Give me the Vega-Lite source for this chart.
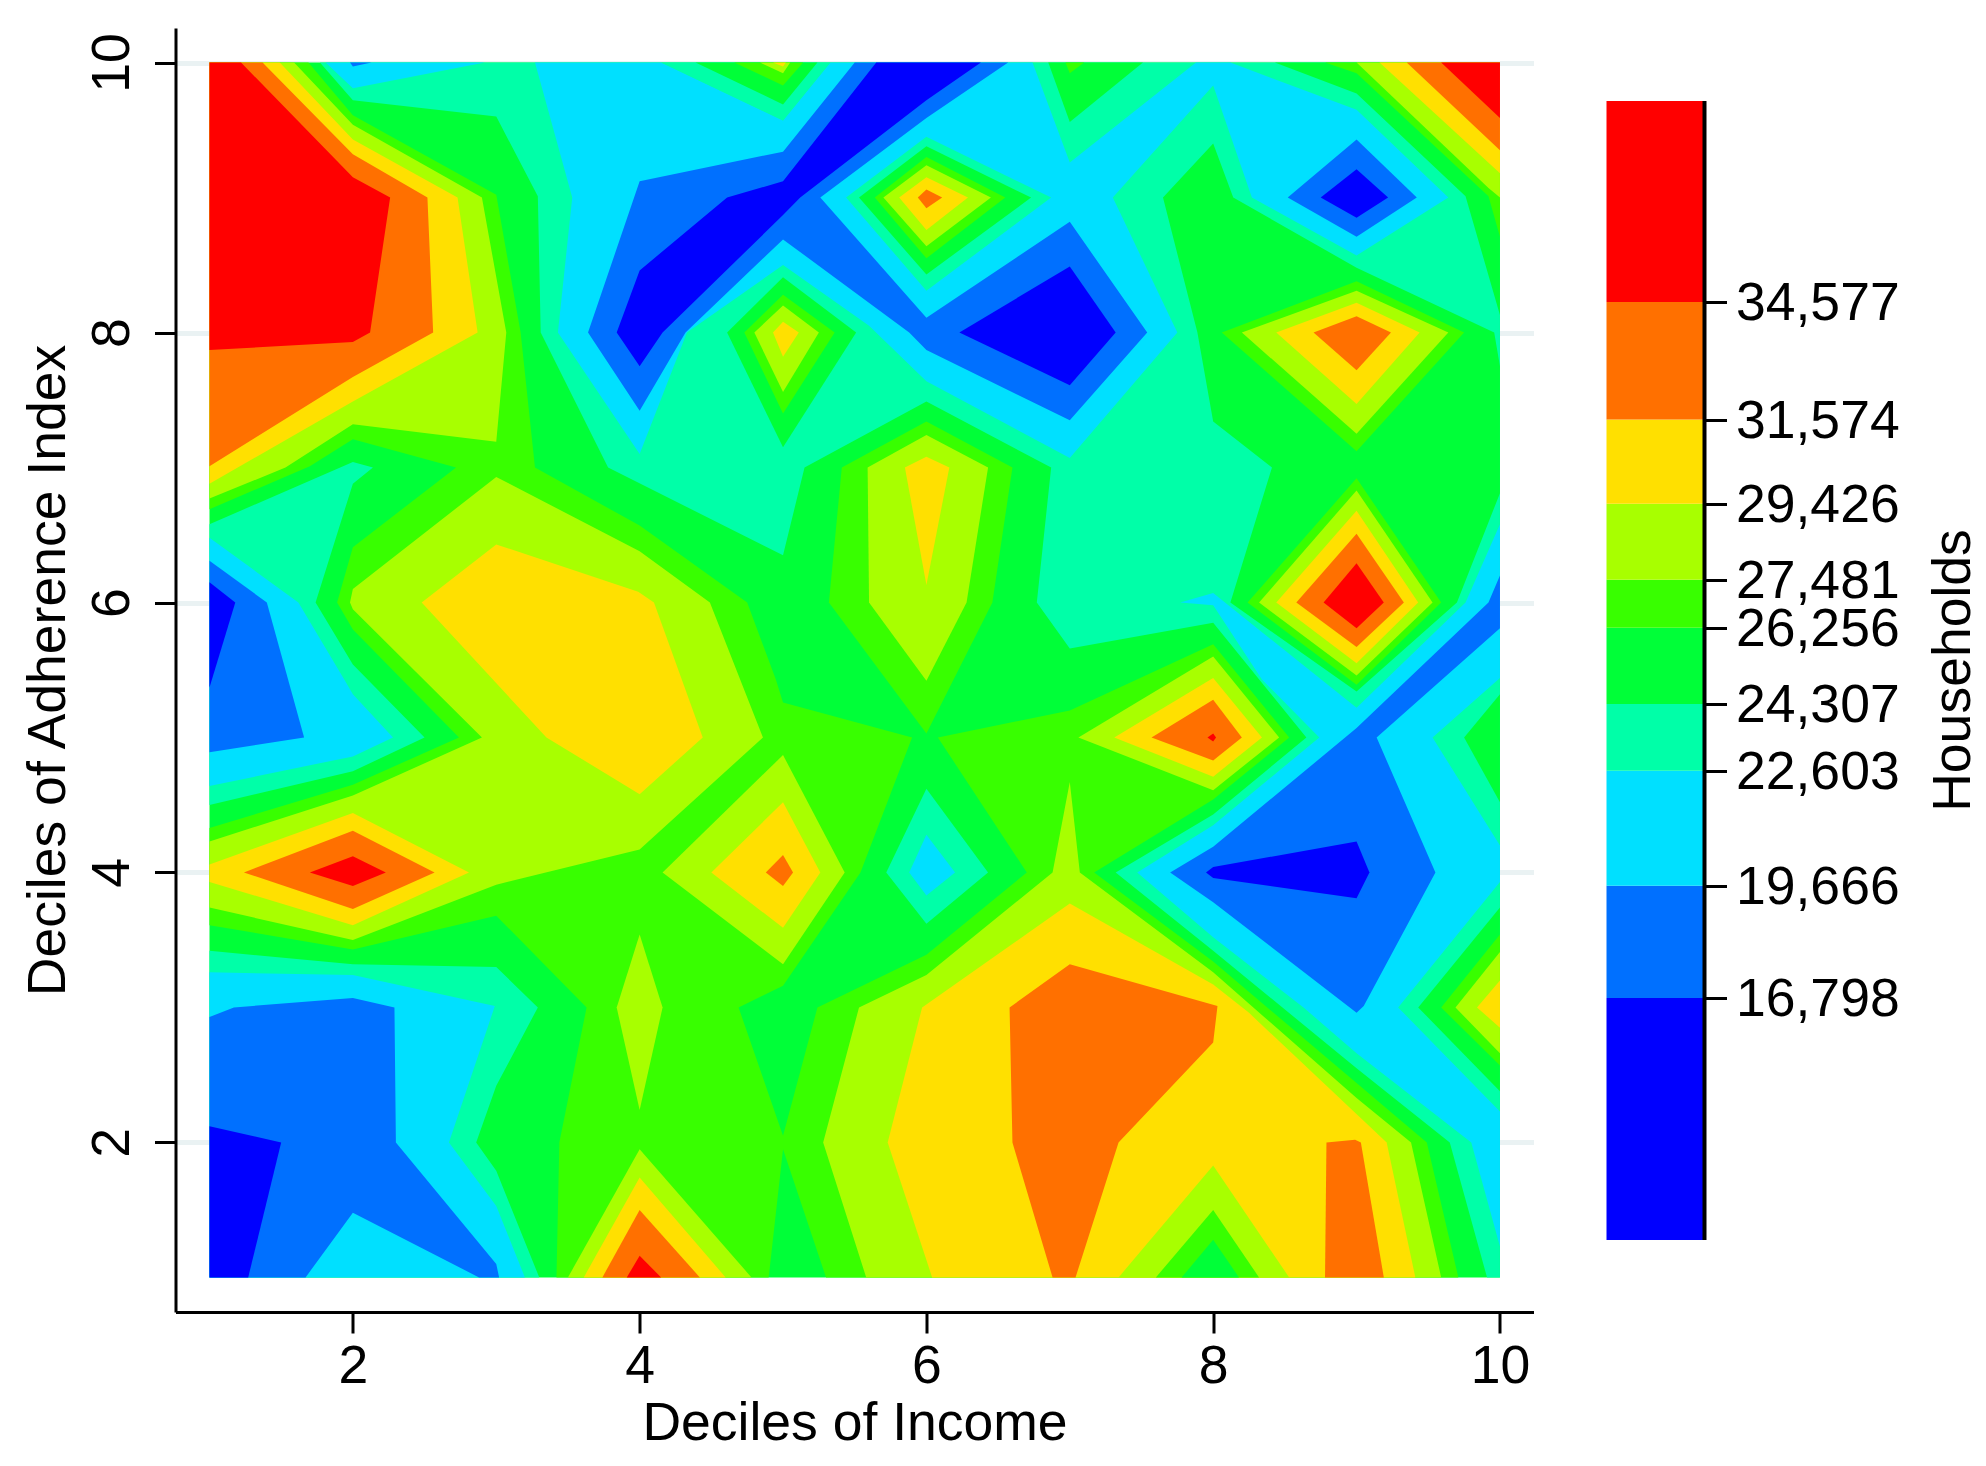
{"$schema":"https://vega.github.io/schema/vega-lite/v6.json","padding":{"left":21.5,"top":28,"right":0,"bottom":0},"background":"white","spacing":73,"config":{"view":{"stroke":null},"font":"Liberation Sans"},
"datasets":{"bands":[{"lo":10617,"hi":16798,"c":"c0"},{"lo":16798,"hi":19666,"c":"c1"},{"lo":19666,"hi":22603,"c":"c2"},{"lo":22603,"hi":24307,"c":"c3"},{"lo":24307,"hi":26256,"c":"c4"},{"lo":26256,"hi":27481,"c":"c5"},{"lo":27481,"hi":29426,"c":"c6"},{"lo":29426,"hi":31574,"c":"c7"},{"lo":31574,"hi":34577,"c":"c8"},{"lo":34577,"hi":39711,"c":"c9"}],
"poly":[
{"p":1,"c":"c4","x":1,"y":1},{"p":1,"c":"c4","x":10,"y":1},{"p":1,"c":"c4","x":10,"y":10},{"p":1,"c":"c4","x":1,"y":10},
{"p":2,"c":"c5","x":1,"y":10},{"p":2,"c":"c5","x":1.69,"y":10},{"p":2,"c":"c5","x":2,"y":9.61},{"p":2,"c":"c5","x":3,"y":9.02},{"p":2,"c":"c5","x":3.17,"y":8},{"p":2,"c":"c5","x":3.27,"y":7},{"p":2,"c":"c5","x":4,"y":6.57},{"p":2,"c":"c5","x":4.75,"y":6},{"p":2,"c":"c5","x":4.95,"y":5.43},{"p":2,"c":"c5","x":5,"y":5.26},{"p":2,"c":"c5","x":5.9,"y":5},{"p":2,"c":"c5","x":5.54,"y":4},{"p":2,"c":"c5","x":5,"y":3.16},{"p":2,"c":"c5","x":4.69,"y":3},{"p":2,"c":"c5","x":5,"y":2.05},{"p":2,"c":"c5","x":5,"y":1.95},{"p":2,"c":"c5","x":4.9,"y":1},{"p":2,"c":"c5","x":3.42,"y":1},{"p":2,"c":"c5","x":3.44,"y":2},{"p":2,"c":"c5","x":3.63,"y":3},{"p":2,"c":"c5","x":3,"y":3.68},{"p":2,"c":"c5","x":2,"y":3.43},{"p":2,"c":"c5","x":1,"y":3.61},{"p":2,"c":"c5","x":1,"y":4.33},{"p":2,"c":"c5","x":2,"y":4.65},{"p":2,"c":"c5","x":2.74,"y":5},{"p":2,"c":"c5","x":2,"y":5.8},{"p":2,"c":"c5","x":1.89,"y":6},{"p":2,"c":"c5","x":2,"y":6.41},{"p":2,"c":"c5","x":2.72,"y":7},{"p":2,"c":"c5","x":2,"y":7.21},{"p":2,"c":"c5","x":1.7,"y":7.01},{"p":2,"c":"c5","x":1,"y":6.69},
{"p":3,"c":"c5","x":5,"y":2.05},{"p":3,"c":"c5","x":5.24,"y":3},{"p":3,"c":"c5","x":6,"y":3.39},{"p":3,"c":"c5","x":6.7,"y":4},{"p":3,"c":"c5","x":6.08,"y":5},{"p":3,"c":"c5","x":7,"y":5.2},{"p":3,"c":"c5","x":8,"y":5.69},{"p":3,"c":"c5","x":8.53,"y":5},{"p":3,"c":"c5","x":8,"y":4.54},{"p":3,"c":"c5","x":7.17,"y":4},{"p":3,"c":"c5","x":8,"y":3.34},{"p":3,"c":"c5","x":9,"y":2.44},{"p":3,"c":"c5","x":9.49,"y":2},{"p":3,"c":"c5","x":9.71,"y":1},{"p":3,"c":"c5","x":5.3,"y":1},{"p":3,"c":"c5","x":5,"y":1.95},
{"p":4,"c":"c5","x":6,"y":7.34},{"p":4,"c":"c5","x":5.41,"y":7},{"p":4,"c":"c5","x":5.32,"y":6},{"p":4,"c":"c5","x":6,"y":5.03},{"p":4,"c":"c5","x":6.46,"y":6},{"p":4,"c":"c5","x":6.6,"y":7},
{"p":5,"c":"c3","x":1,"y":3.42},{"p":5,"c":"c3","x":2,"y":3.32},{"p":5,"c":"c3","x":3,"y":3.3},{"p":5,"c":"c3","x":3.29,"y":3},{"p":5,"c":"c3","x":3,"y":2.42},{"p":5,"c":"c3","x":2.86,"y":2},{"p":5,"c":"c3","x":3,"y":1.79},{"p":5,"c":"c3","x":3.3,"y":1},{"p":5,"c":"c3","x":1,"y":1},
{"p":6,"c":"c2","x":1,"y":3.26},{"p":6,"c":"c2","x":2,"y":3.24},{"p":6,"c":"c2","x":2.99,"y":3.01},{"p":6,"c":"c2","x":2.67,"y":2},{"p":6,"c":"c2","x":3,"y":1.53},{"p":6,"c":"c2","x":3.2,"y":1},{"p":6,"c":"c2","x":1,"y":1},
{"p":7,"c":"c1","x":1,"y":2.93},{"p":7,"c":"c1","x":1.17,"y":3},{"p":7,"c":"c1","x":2,"y":3.07},{"p":7,"c":"c1","x":2.29,"y":3},{"p":7,"c":"c1","x":2.3,"y":2},{"p":7,"c":"c1","x":3,"y":1.1},{"p":7,"c":"c1","x":3.02,"y":1},{"p":7,"c":"c1","x":2.88,"y":1},{"p":7,"c":"c1","x":2,"y":1.48},{"p":7,"c":"c1","x":1.67,"y":1},{"p":7,"c":"c1","x":1,"y":1},
{"p":8,"c":"c0","x":1,"y":2.12},{"p":8,"c":"c0","x":1.5,"y":2},{"p":8,"c":"c0","x":1.27,"y":1},{"p":8,"c":"c0","x":1,"y":1},
{"p":9,"c":"c3","x":1,"y":6.58},{"p":9,"c":"c3","x":2,"y":7.04},{"p":9,"c":"c3","x":2.14,"y":7},{"p":9,"c":"c3","x":2,"y":6.88},{"p":9,"c":"c3","x":1.74,"y":6},{"p":9,"c":"c3","x":2,"y":5.54},{"p":9,"c":"c3","x":2.5,"y":5},{"p":9,"c":"c3","x":2,"y":4.75},{"p":9,"c":"c3","x":1,"y":4.5},
{"p":10,"c":"c2","x":1,"y":6.48},{"p":10,"c":"c2","x":1.62,"y":6},{"p":10,"c":"c2","x":1.94,"y":5.43},{"p":10,"c":"c2","x":2,"y":5.32},{"p":10,"c":"c2","x":2.28,"y":5},{"p":10,"c":"c2","x":2,"y":4.86},{"p":10,"c":"c2","x":1,"y":4.64},
{"p":11,"c":"c1","x":1,"y":6.31},{"p":11,"c":"c1","x":1.4,"y":6},{"p":11,"c":"c1","x":1.66,"y":5},{"p":11,"c":"c1","x":1,"y":4.89},
{"p":12,"c":"c0","x":1,"y":6.15},{"p":12,"c":"c0","x":1.18,"y":6},{"p":12,"c":"c0","x":1,"y":5.37},
{"p":13,"c":"c6","x":1,"y":10},{"p":13,"c":"c6","x":1.59,"y":10},{"p":13,"c":"c6","x":2,"y":9.54},{"p":13,"c":"c6","x":2.9,"y":9},{"p":13,"c":"c6","x":3.07,"y":8},{"p":13,"c":"c6","x":3,"y":7.19},{"p":13,"c":"c6","x":2,"y":7.32},{"p":13,"c":"c6","x":1.53,"y":7},{"p":13,"c":"c6","x":1,"y":6.77},
{"p":14,"c":"c7","x":1,"y":10},{"p":14,"c":"c7","x":1.49,"y":10},{"p":14,"c":"c7","x":2,"y":9.43},{"p":14,"c":"c7","x":2.73,"y":9},{"p":14,"c":"c7","x":2.87,"y":8},{"p":14,"c":"c7","x":2,"y":7.49},{"p":14,"c":"c7","x":1,"y":6.88},
{"p":15,"c":"c8","x":1,"y":10},{"p":15,"c":"c8","x":1.37,"y":10},{"p":15,"c":"c8","x":2,"y":9.32},{"p":15,"c":"c8","x":2.52,"y":9},{"p":15,"c":"c8","x":2.56,"y":8},{"p":15,"c":"c8","x":2,"y":7.67},{"p":15,"c":"c8","x":1,"y":7.01},
{"p":16,"c":"c9","x":1,"y":10},{"p":16,"c":"c9","x":1.22,"y":10},{"p":16,"c":"c9","x":2,"y":9.15},{"p":16,"c":"c9","x":2.26,"y":9},{"p":16,"c":"c9","x":2.12,"y":8},{"p":16,"c":"c9","x":2,"y":7.93},{"p":16,"c":"c9","x":1,"y":7.87},
{"p":17,"c":"c6","x":3,"y":6.93},{"p":17,"c":"c6","x":4,"y":6.38},{"p":17,"c":"c6","x":4.49,"y":6},{"p":17,"c":"c6","x":4.86,"y":5},{"p":17,"c":"c6","x":4,"y":4.17},{"p":17,"c":"c6","x":3,"y":3.91},{"p":17,"c":"c6","x":2,"y":3.5},{"p":17,"c":"c6","x":1,"y":3.74},{"p":17,"c":"c6","x":1,"y":4.23},{"p":17,"c":"c6","x":2,"y":4.57},{"p":17,"c":"c6","x":2.9,"y":5},{"p":17,"c":"c6","x":2,"y":5.95},{"p":17,"c":"c6","x":1.98,"y":6},{"p":17,"c":"c6","x":2,"y":6.1},
{"p":18,"c":"c7","x":2.48,"y":6},{"p":18,"c":"c7","x":3,"y":6.43},{"p":18,"c":"c7","x":3.99,"y":6.08},{"p":18,"c":"c7","x":4.1,"y":6},{"p":18,"c":"c7","x":4.44,"y":5},{"p":18,"c":"c7","x":4,"y":4.58},{"p":18,"c":"c7","x":3.35,"y":5},
{"p":19,"c":"c7","x":1,"y":4.06},{"p":19,"c":"c7","x":2,"y":4.44},{"p":19,"c":"c7","x":2.81,"y":4},{"p":19,"c":"c7","x":2,"y":3.61},{"p":19,"c":"c7","x":1,"y":3.93},
{"p":20,"c":"c8","x":1.24,"y":4},{"p":20,"c":"c8","x":2,"y":4.31},{"p":20,"c":"c8","x":2.57,"y":4},{"p":20,"c":"c8","x":2,"y":3.73},
{"p":21,"c":"c9","x":1.7,"y":4},{"p":21,"c":"c9","x":2,"y":4.12},{"p":21,"c":"c9","x":2.23,"y":4},{"p":21,"c":"c9","x":2,"y":3.9},
{"p":22,"c":"c6","x":3.5,"y":1},{"p":22,"c":"c6","x":4,"y":1.95},{"p":22,"c":"c6","x":4.78,"y":1},
{"p":23,"c":"c7","x":3.61,"y":1},{"p":23,"c":"c7","x":4,"y":1.74},{"p":23,"c":"c7","x":4.6,"y":1},
{"p":24,"c":"c8","x":3.74,"y":1},{"p":24,"c":"c8","x":4,"y":1.5},{"p":24,"c":"c8","x":4.42,"y":1},
{"p":25,"c":"c9","x":3.91,"y":1},{"p":25,"c":"c9","x":4,"y":1.16},{"p":25,"c":"c9","x":4.15,"y":1},
{"p":26,"c":"c6","x":3.84,"y":3},{"p":26,"c":"c6","x":4,"y":3.54},{"p":26,"c":"c6","x":4.16,"y":3},{"p":26,"c":"c6","x":4,"y":2.24},
{"p":27,"c":"c6","x":4.16,"y":4},{"p":27,"c":"c6","x":5,"y":4.87},{"p":27,"c":"c6","x":5.43,"y":4},{"p":27,"c":"c6","x":5,"y":3.32},
{"p":28,"c":"c7","x":4.5,"y":4},{"p":28,"c":"c7","x":5,"y":4.52},{"p":28,"c":"c7","x":5.26,"y":4},{"p":28,"c":"c7","x":5,"y":3.59},
{"p":29,"c":"c8","x":4.88,"y":4},{"p":29,"c":"c8","x":5,"y":4.13},{"p":29,"c":"c8","x":5.07,"y":4},{"p":29,"c":"c8","x":5,"y":3.9},
{"p":30,"c":"c3","x":1.77,"y":10},{"p":30,"c":"c3","x":2,"y":9.72},{"p":30,"c":"c3","x":3,"y":9.6},{"p":30,"c":"c3","x":3.29,"y":9.01},{"p":30,"c":"c3","x":3.31,"y":8},{"p":30,"c":"c3","x":3.78,"y":7},{"p":30,"c":"c3","x":5,"y":6.35},{"p":30,"c":"c3","x":5.15,"y":7},{"p":30,"c":"c3","x":6,"y":7.49},{"p":30,"c":"c3","x":6.87,"y":7},{"p":30,"c":"c3","x":6.77,"y":6},{"p":30,"c":"c3","x":7,"y":5.66},{"p":30,"c":"c3","x":8,"y":5.85},{"p":30,"c":"c3","x":8.65,"y":5},{"p":30,"c":"c3","x":8,"y":4.43},{"p":30,"c":"c3","x":7.32,"y":4},{"p":30,"c":"c3","x":8,"y":3.42},{"p":30,"c":"c3","x":9,"y":2.55},{"p":30,"c":"c3","x":9.65,"y":2},{"p":30,"c":"c3","x":9.91,"y":1},{"p":30,"c":"c3","x":10,"y":1},{"p":30,"c":"c3","x":10,"y":10},
{"p":31,"c":"c2","x":3.27,"y":10},{"p":31,"c":"c2","x":3.53,"y":9},{"p":31,"c":"c2","x":3.43,"y":8},{"p":31,"c":"c2","x":4,"y":7.1},{"p":31,"c":"c2","x":4.33,"y":8},{"p":31,"c":"c2","x":5,"y":8.5},{"p":31,"c":"c2","x":5.6,"y":8.05},{"p":31,"c":"c2","x":6,"y":7.64},{"p":31,"c":"c2","x":7,"y":7.07},{"p":31,"c":"c2","x":7.75,"y":8},{"p":31,"c":"c2","x":7.3,"y":9},{"p":31,"c":"c2","x":8,"y":9.83},{"p":31,"c":"c2","x":8.27,"y":9},{"p":31,"c":"c2","x":9,"y":8.57},{"p":31,"c":"c2","x":9.64,"y":9},{"p":31,"c":"c2","x":9,"y":9.65},{"p":31,"c":"c2","x":8.12,"y":10},{"p":31,"c":"c2","x":7.88,"y":10},{"p":31,"c":"c2","x":7,"y":9.26},{"p":31,"c":"c2","x":6.74,"y":10},{"p":31,"c":"c2","x":5.33,"y":10},{"p":31,"c":"c2","x":5,"y":9.57},{"p":31,"c":"c2","x":4.15,"y":10},
{"p":32,"c":"c2","x":1.81,"y":10},{"p":32,"c":"c2","x":2,"y":9.81},{"p":32,"c":"c2","x":2.92,"y":10},
{"p":33,"c":"c1","x":1.98,"y":10},{"p":33,"c":"c1","x":2,"y":9.97},{"p":33,"c":"c1","x":2.13,"y":10},
{"p":34,"c":"c1","x":4,"y":9.12},{"p":34,"c":"c1","x":5,"y":9.34},{"p":34,"c":"c1","x":5.5,"y":10},{"p":34,"c":"c1","x":6.57,"y":10},{"p":34,"c":"c1","x":6,"y":9.59},{"p":34,"c":"c1","x":5.26,"y":9},{"p":34,"c":"c1","x":6,"y":8.11},{"p":34,"c":"c1","x":7,"y":8.82},{"p":34,"c":"c1","x":7.54,"y":8},{"p":34,"c":"c1","x":7,"y":7.35},{"p":34,"c":"c1","x":6,"y":7.87},{"p":34,"c":"c1","x":5.88,"y":8},{"p":34,"c":"c1","x":5,"y":8.69},{"p":34,"c":"c1","x":4.32,"y":8},{"p":34,"c":"c1","x":4,"y":7.42},{"p":34,"c":"c1","x":3.64,"y":8},
{"p":35,"c":"c0","x":4,"y":8.46},{"p":35,"c":"c0","x":4.61,"y":9},{"p":35,"c":"c0","x":5,"y":9.12},{"p":35,"c":"c0","x":5.65,"y":10},{"p":35,"c":"c0","x":6.38,"y":10},{"p":35,"c":"c0","x":6,"y":9.72},{"p":35,"c":"c0","x":5.12,"y":9},{"p":35,"c":"c0","x":5,"y":8.87},{"p":35,"c":"c0","x":4.16,"y":8},{"p":35,"c":"c0","x":4,"y":7.75},{"p":35,"c":"c0","x":3.84,"y":8},
{"p":36,"c":"c0","x":6.23,"y":8},{"p":36,"c":"c0","x":7,"y":8.49},{"p":36,"c":"c0","x":7.32,"y":8},{"p":36,"c":"c0","x":7,"y":7.61},
{"p":37,"c":"c1","x":8.52,"y":9},{"p":37,"c":"c1","x":9,"y":9.43},{"p":37,"c":"c1","x":9.42,"y":9},{"p":37,"c":"c1","x":9,"y":8.71},
{"p":38,"c":"c0","x":8.75,"y":9},{"p":38,"c":"c0","x":9,"y":9.21},{"p":38,"c":"c0","x":9.22,"y":9},{"p":38,"c":"c0","x":9,"y":8.85},
{"p":39,"c":"c2","x":8,"y":6.07},{"p":39,"c":"c2","x":7.77,"y":6},{"p":39,"c":"c2","x":8,"y":5.98},{"p":39,"c":"c2","x":8.34,"y":5.43},{"p":39,"c":"c2","x":8.74,"y":5},{"p":39,"c":"c2","x":8,"y":4.35},{"p":39,"c":"c2","x":7.47,"y":4},{"p":39,"c":"c2","x":8,"y":3.52},{"p":39,"c":"c2","x":8.63,"y":3},{"p":39,"c":"c2","x":9,"y":2.66},{"p":39,"c":"c2","x":9.8,"y":2},{"p":39,"c":"c2","x":10,"y":1.23},{"p":39,"c":"c2","x":10,"y":2.23},{"p":39,"c":"c2","x":9.29,"y":3},{"p":39,"c":"c2","x":10,"y":3.93},{"p":39,"c":"c2","x":10,"y":4.2},{"p":39,"c":"c2","x":9.53,"y":5},{"p":39,"c":"c2","x":10,"y":5.44},{"p":39,"c":"c2","x":10,"y":6.58},{"p":39,"c":"c2","x":9.76,"y":6},{"p":39,"c":"c2","x":9,"y":5.22},
{"p":40,"c":"c1","x":10,"y":6.2},{"p":40,"c":"c1","x":9.92,"y":6},{"p":40,"c":"c1","x":9,"y":5.07},{"p":40,"c":"c1","x":8,"y":4.19},{"p":40,"c":"c1","x":7.7,"y":4},{"p":40,"c":"c1","x":8,"y":3.78},{"p":40,"c":"c1","x":9,"y":2.96},{"p":40,"c":"c1","x":9.05,"y":3.01},{"p":40,"c":"c1","x":9.55,"y":4},{"p":40,"c":"c1","x":9.14,"y":5},{"p":40,"c":"c1","x":10,"y":5.81},
{"p":41,"c":"c0","x":7.95,"y":4},{"p":41,"c":"c0","x":8,"y":4.04},{"p":41,"c":"c0","x":9,"y":4.23},{"p":41,"c":"c0","x":9.09,"y":4},{"p":41,"c":"c0","x":9,"y":3.81},{"p":41,"c":"c0","x":8,"y":3.96},
{"p":42,"c":"c4","x":7.65,"y":9},{"p":42,"c":"c4","x":8,"y":9.4},{"p":42,"c":"c4","x":8.14,"y":9},{"p":42,"c":"c4","x":9,"y":8.48},{"p":42,"c":"c4","x":9.96,"y":8},{"p":42,"c":"c4","x":10,"y":7.75},{"p":42,"c":"c4","x":10,"y":6.81},{"p":42,"c":"c4","x":9.7,"y":6},{"p":42,"c":"c4","x":9,"y":5.34},{"p":42,"c":"c4","x":8.12,"y":6},{"p":42,"c":"c4","x":8.41,"y":7},{"p":42,"c":"c4","x":8,"y":7.34},{"p":42,"c":"c4","x":7.89,"y":8},
{"p":43,"c":"c4","x":6.85,"y":10},{"p":43,"c":"c4","x":7,"y":9.56},{"p":43,"c":"c4","x":7.51,"y":10},
{"p":44,"c":"c5","x":6.97,"y":10},{"p":44,"c":"c5","x":7,"y":9.92},{"p":44,"c":"c5","x":7.1,"y":10},
{"p":45,"c":"c4","x":8.43,"y":10},{"p":45,"c":"c4","x":9,"y":9.77},{"p":45,"c":"c4","x":9.76,"y":9.01},{"p":45,"c":"c4","x":10,"y":8.13},{"p":45,"c":"c4","x":10,"y":10},
{"p":46,"c":"c5","x":8.78,"y":10},{"p":46,"c":"c5","x":9,"y":9.92},{"p":46,"c":"c5","x":9.92,"y":9.01},{"p":46,"c":"c5","x":10,"y":8.71},{"p":46,"c":"c5","x":10,"y":10},
{"p":47,"c":"c6","x":9,"y":10},{"p":47,"c":"c6","x":9.92,"y":9.07},{"p":47,"c":"c6","x":10,"y":9},{"p":47,"c":"c6","x":10,"y":10},
{"p":48,"c":"c7","x":9.16,"y":10},{"p":48,"c":"c7","x":10,"y":9.18},{"p":48,"c":"c7","x":10,"y":10},
{"p":49,"c":"c8","x":9.35,"y":10},{"p":49,"c":"c8","x":10,"y":9.35},{"p":49,"c":"c8","x":10,"y":10},
{"p":50,"c":"c9","x":9.59,"y":10},{"p":50,"c":"c9","x":10,"y":9.59},{"p":50,"c":"c9","x":10,"y":10},
{"p":51,"c":"c4","x":10,"y":5.32},{"p":51,"c":"c4","x":9.75,"y":5},{"p":51,"c":"c4","x":10,"y":4.52},
{"p":52,"c":"c4","x":10,"y":3.74},{"p":52,"c":"c4","x":9.43,"y":3},{"p":52,"c":"c4","x":10,"y":2.38},
{"p":53,"c":"c5","x":10,"y":3.54},{"p":53,"c":"c5","x":9.59,"y":3},{"p":53,"c":"c5","x":10,"y":2.57},
{"p":54,"c":"c6","x":10,"y":3.41},{"p":54,"c":"c6","x":9.69,"y":3},{"p":54,"c":"c6","x":10,"y":2.66},
{"p":55,"c":"c7","x":10,"y":3.2},{"p":55,"c":"c7","x":9.84,"y":3},{"p":55,"c":"c7","x":10,"y":2.85},
{"p":56,"c":"c5","x":8.06,"y":8},{"p":56,"c":"c5","x":9,"y":8.38},{"p":56,"c":"c5","x":9.75,"y":8},{"p":56,"c":"c5","x":9,"y":7.12},
{"p":57,"c":"c6","x":8.2,"y":8},{"p":57,"c":"c6","x":9,"y":8.31},{"p":57,"c":"c6","x":9.64,"y":8},{"p":57,"c":"c6","x":9,"y":7.25},
{"p":58,"c":"c7","x":8.44,"y":8},{"p":58,"c":"c7","x":9,"y":8.22},{"p":58,"c":"c7","x":9.44,"y":8},{"p":58,"c":"c7","x":9,"y":7.47},
{"p":59,"c":"c8","x":8.7,"y":8},{"p":59,"c":"c8","x":9,"y":8.12},{"p":59,"c":"c8","x":9.24,"y":8},{"p":59,"c":"c8","x":9,"y":7.72},
{"p":60,"c":"c5","x":8.24,"y":6},{"p":60,"c":"c5","x":9,"y":6.92},{"p":60,"c":"c5","x":9.59,"y":6},{"p":60,"c":"c5","x":9,"y":5.39},
{"p":61,"c":"c6","x":8.32,"y":6},{"p":61,"c":"c6","x":9,"y":6.83},{"p":61,"c":"c6","x":9.53,"y":6},{"p":61,"c":"c6","x":9,"y":5.46},
{"p":62,"c":"c7","x":8.44,"y":6},{"p":62,"c":"c7","x":9,"y":6.68},{"p":62,"c":"c7","x":9.43,"y":6},{"p":62,"c":"c7","x":9,"y":5.55},
{"p":63,"c":"c8","x":8.58,"y":6},{"p":63,"c":"c8","x":9,"y":6.51},{"p":63,"c":"c8","x":9.33,"y":6},{"p":63,"c":"c8","x":9,"y":5.67},
{"p":64,"c":"c9","x":8.77,"y":6},{"p":64,"c":"c9","x":9,"y":6.29},{"p":64,"c":"c9","x":9.19,"y":6},{"p":64,"c":"c9","x":9,"y":5.81},
{"p":65,"c":"c3","x":5.44,"y":9},{"p":65,"c":"c3","x":6,"y":9.45},{"p":65,"c":"c3","x":6.87,"y":9},{"p":65,"c":"c3","x":6,"y":8.31},
{"p":66,"c":"c4","x":5.53,"y":9},{"p":66,"c":"c4","x":6,"y":9.38},{"p":66,"c":"c4","x":6.73,"y":9},{"p":66,"c":"c4","x":6,"y":8.43},
{"p":67,"c":"c5","x":5.64,"y":9},{"p":67,"c":"c5","x":6,"y":9.3},{"p":67,"c":"c5","x":6.55,"y":9},{"p":67,"c":"c5","x":6,"y":8.55},
{"p":68,"c":"c6","x":5.7,"y":9},{"p":68,"c":"c6","x":6,"y":9.24},{"p":68,"c":"c6","x":6.45,"y":9},{"p":68,"c":"c6","x":6,"y":8.64},
{"p":69,"c":"c7","x":5.81,"y":9},{"p":69,"c":"c7","x":6,"y":9.15},{"p":69,"c":"c7","x":6.29,"y":9},{"p":69,"c":"c7","x":6,"y":8.76},
{"p":70,"c":"c8","x":5.94,"y":9},{"p":70,"c":"c8","x":6,"y":9.06},{"p":70,"c":"c8","x":6.11,"y":9},{"p":70,"c":"c8","x":6,"y":8.92},
{"p":71,"c":"c3","x":4.15,"y":10},{"p":71,"c":"c3","x":5,"y":9.57},{"p":71,"c":"c3","x":5.33,"y":10},
{"p":72,"c":"c4","x":4.39,"y":10},{"p":72,"c":"c4","x":5,"y":9.69},{"p":72,"c":"c4","x":5.24,"y":10},
{"p":73,"c":"c5","x":4.66,"y":10},{"p":73,"c":"c5","x":5,"y":9.83},{"p":73,"c":"c5","x":5.14,"y":10},
{"p":74,"c":"c6","x":4.84,"y":10},{"p":74,"c":"c6","x":5,"y":9.92},{"p":74,"c":"c6","x":5.05,"y":10},
{"p":75,"c":"c7","x":4.93,"y":10},{"p":75,"c":"c7","x":5,"y":9.97},{"p":75,"c":"c7","x":5.02,"y":10},
{"p":76,"c":"c4","x":4.61,"y":8},{"p":76,"c":"c4","x":5,"y":8.41},{"p":76,"c":"c4","x":5.51,"y":8},{"p":76,"c":"c4","x":5,"y":7.15},
{"p":77,"c":"c5","x":4.73,"y":8},{"p":77,"c":"c5","x":5,"y":8.28},{"p":77,"c":"c5","x":5.36,"y":8},{"p":77,"c":"c5","x":5,"y":7.4},
{"p":78,"c":"c6","x":4.8,"y":8},{"p":78,"c":"c6","x":5,"y":8.2},{"p":78,"c":"c6","x":5.25,"y":8},{"p":78,"c":"c6","x":5,"y":7.56},
{"p":79,"c":"c7","x":4.93,"y":8},{"p":79,"c":"c7","x":5,"y":8.08},{"p":79,"c":"c7","x":5.11,"y":8},{"p":79,"c":"c7","x":5,"y":7.82},
{"p":80,"c":"c3","x":5.72,"y":4},{"p":80,"c":"c3","x":6,"y":4.62},{"p":80,"c":"c3","x":6.43,"y":4},{"p":80,"c":"c3","x":6,"y":3.62},
{"p":81,"c":"c2","x":5.88,"y":4},{"p":81,"c":"c2","x":6,"y":4.28},{"p":81,"c":"c2","x":6.2,"y":4},{"p":81,"c":"c2","x":6,"y":3.83},
{"p":82,"c":"c6","x":5.53,"y":3},{"p":82,"c":"c6","x":5.28,"y":2},{"p":82,"c":"c6","x":5.58,"y":1},{"p":82,"c":"c6","x":9.59,"y":1},{"p":82,"c":"c6","x":9.38,"y":2},{"p":82,"c":"c6","x":9,"y":2.33},{"p":82,"c":"c6","x":8,"y":3.26},{"p":82,"c":"c6","x":7.07,"y":4},{"p":82,"c":"c6","x":7,"y":4.67},{"p":82,"c":"c6","x":6.88,"y":4},{"p":82,"c":"c6","x":6,"y":3.24},
{"p":83,"c":"c7","x":5.97,"y":3},{"p":83,"c":"c7","x":5.73,"y":2},{"p":83,"c":"c7","x":6.04,"y":1},{"p":83,"c":"c7","x":9.41,"y":1},{"p":83,"c":"c7","x":9.21,"y":2},{"p":83,"c":"c7","x":8.25,"y":2.96},{"p":83,"c":"c7","x":8,"y":3.17},{"p":83,"c":"c7","x":7,"y":3.77},
{"p":84,"c":"c8","x":6.58,"y":3},{"p":84,"c":"c8","x":6.6,"y":2},{"p":84,"c":"c8","x":6.88,"y":1},{"p":84,"c":"c8","x":7.04,"y":1},{"p":84,"c":"c8","x":7.34,"y":2},{"p":84,"c":"c8","x":8,"y":2.74},{"p":84,"c":"c8","x":8.03,"y":3.01},{"p":84,"c":"c8","x":7,"y":3.32},
{"p":85,"c":"c8","x":8.79,"y":2},{"p":85,"c":"c8","x":8.99,"y":2.02},{"p":85,"c":"c8","x":9.03,"y":2},{"p":85,"c":"c8","x":9.19,"y":1},{"p":85,"c":"c8","x":8.78,"y":1},
{"p":86,"c":"c6","x":7.34,"y":1},{"p":86,"c":"c6","x":8,"y":1.83},{"p":86,"c":"c6","x":8.53,"y":1},
{"p":87,"c":"c5","x":7.6,"y":1},{"p":87,"c":"c5","x":8,"y":1.5},{"p":87,"c":"c5","x":8.32,"y":1},
{"p":88,"c":"c4","x":7.78,"y":1},{"p":88,"c":"c4","x":8,"y":1.28},{"p":88,"c":"c4","x":8.18,"y":1},
{"p":89,"c":"c6","x":7.06,"y":5},{"p":89,"c":"c6","x":8,"y":5.6},{"p":89,"c":"c6","x":8.46,"y":5},{"p":89,"c":"c6","x":8,"y":4.61},
{"p":90,"c":"c7","x":7.31,"y":5},{"p":90,"c":"c7","x":8,"y":5.44},{"p":90,"c":"c7","x":8.34,"y":5},{"p":90,"c":"c7","x":8,"y":4.71},
{"p":91,"c":"c8","x":7.57,"y":5},{"p":91,"c":"c8","x":8,"y":5.28},{"p":91,"c":"c8","x":8.2,"y":5},{"p":91,"c":"c8","x":8,"y":4.83},
{"p":92,"c":"c9","x":7.96,"y":5},{"p":92,"c":"c9","x":8,"y":5.03},{"p":92,"c":"c9","x":8.02,"y":5},{"p":92,"c":"c9","x":8,"y":4.97},
{"p":93,"c":"c6","x":6,"y":7.24},{"p":93,"c":"c6","x":5.59,"y":7},{"p":93,"c":"c6","x":5.6,"y":6},{"p":93,"c":"c6","x":6,"y":5.42},{"p":93,"c":"c6","x":6.28,"y":6},{"p":93,"c":"c6","x":6.43,"y":7},
{"p":94,"c":"c7","x":6,"y":7.08},{"p":94,"c":"c7","x":5.85,"y":7},{"p":94,"c":"c7","x":6,"y":6.13},{"p":94,"c":"c7","x":6.16,"y":7}
]},
"hconcat":[
{"width":1358,"height":1284,"data":{"name":"poly"},
"mark":{"type":"line","strokeWidth":0,"interpolate":"linear-closed"},
"encoding":{"order":{"value":null},"detail":{"field":"p"},
"fill":{"field":"c","type":"nominal","legend":null,"scale":{"domain":["c0","c1","c2","c3","c4","c5","c6","c7","c8","c9"],"range":["#0000ff","#0070ff","#00e0ff","#00ffa8","#00ff38","#38ff00","#a8ff00","#ffe000","#ff7000","#ff0000"]}},
"x":{"field":"x","type":"quantitative","scale":{"domain":[0.763,10.234],"nice":false,"zero":false},
"axis":{"values":[2,4,6,8,10],"grid":false,"title":"Deciles of Income","tickSize":21,"tickWidth":3,"tickColor":"black","domainWidth":3,"domainColor":"black","labelFont":"Liberation Sans","labelFontSize":53.5,"labelColor":"black","labelPadding":7,"titleFont":"Liberation Sans","titleFontSize":53.5,"titleFontWeight":"normal","titleColor":"black","titlePadding":5,"labelFlush":false}},
"y":{"field":"y","type":"quantitative","scale":{"domain":[0.744,10.256],"nice":false,"zero":false},
"axis":{"values":[2,4,6,8,10],"grid":true,"gridColor":"#eaf2f3","gridWidth":5,"title":"Deciles of Adherence Index","tickSize":21,"tickWidth":3,"tickColor":"black","domainWidth":3,"domainColor":"black","labelAngle":-90,"labelAlign":"center","labelBaseline":"bottom","labelFont":"Liberation Sans","labelFontSize":53.5,"labelColor":"black","labelPadding":15,"titleFont":"Liberation Sans","titleFontSize":53.5,"titleFontWeight":"normal","titleColor":"black","titlePadding":10,"labelFlush":false}}}},
{"width":98,"height":1284,"layer":[
{"data":{"name":"bands"},"mark":{"type":"rect"},"encoding":{
"x":{"datum":0,"type":"quantitative","scale":{"domain":[0,1],"nice":false},"axis":null},
"x2":{"datum":1},
"y":{"field":"lo","type":"quantitative","scale":{"domain":[8778,41576],"nice":false,"zero":false},
"axis":{"orient":"right","values":[16798,19666,22603,24307,26256,27481,29426,31574,34577],"format":",d","grid":false,"domain":false,"title":"Households","tickSize":22,"tickWidth":3,"tickColor":"black","labelFont":"Liberation Sans","labelFontSize":53.5,"labelColor":"black","labelPadding":9,"labelBaseline":"middle","labelOffset":1.5,"labelOverlap":false,"titleFont":"Liberation Sans","titleFontSize":53.5,"titleFontWeight":"normal","titleColor":"black","titleAngle":-90,"titleBaseline":"bottom","titlePadding":81}},
"y2":{"field":"hi"},
"fill":{"field":"c","type":"nominal","legend":null,"scale":{"domain":["c0","c1","c2","c3","c4","c5","c6","c7","c8","c9"],"range":["#0000ff","#0070ff","#00e0ff","#00ffa8","#00ff38","#38ff00","#a8ff00","#ffe000","#ff7000","#ff0000"]}}}},
{"data":{"values":[{"lo":10617,"hi":39711}]},"mark":{"type":"rule","color":"black","strokeWidth":4},"encoding":{"x":{"datum":1,"type":"quantitative"},"y":{"field":"lo","type":"quantitative"},"y2":{"field":"hi"}}}
]}
]}
